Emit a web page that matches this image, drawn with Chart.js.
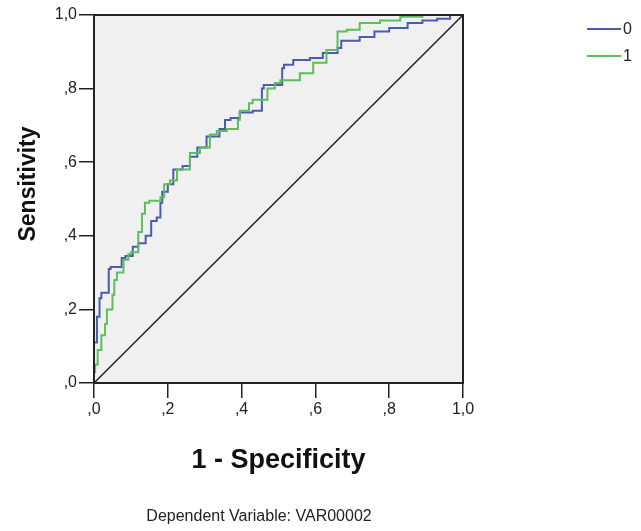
<!DOCTYPE html>
<html>
<head>
<meta charset="utf-8">
<script src="https://cdn.jsdelivr.net/npm/chart.js@4.4.1/dist/chart.umd.min.js"></script>
<style>
    body { margin: 0; background: #ffffff; }
    canvas { display: block; }
</style>
</head>
<body>
<canvas id="rocChart" width="641" height="531"></canvas>
<script>
// ROC curve values

// Group labels (legend)
const groupLabels = ['0', '1'];

// Group 0 (blue): 1 - specificity, sensitivity
const fpr0 = [0, 0, 0.008, 0.015, 0.02, 0.04, 0.045, 0.075, 0.085, 0.105, 0.12, 0.14, 0.155, 0.17, 0.18, 0.185,
    0.2, 0.215, 0.24, 0.26, 0.28, 0.305, 0.34, 0.355, 0.37, 0.395, 0.43, 0.455, 0.46, 0.51, 0.515, 0.54,
    0.585, 0.62, 0.66, 0.67, 0.72, 0.76, 0.8, 0.85, 0.89, 0.93, 0.965, 1];
const tpr0 = [0, 0.1, 0.11, 0.18, 0.23, 0.245, 0.31, 0.315, 0.34, 0.345, 0.37, 0.38, 0.4, 0.44, 0.45, 0.49,
    0.52, 0.54, 0.58, 0.59, 0.615, 0.64, 0.67, 0.69, 0.715, 0.72, 0.735, 0.74, 0.8, 0.81, 0.855, 0.865,
    0.878, 0.883, 0.897, 0.91, 0.93, 0.94, 0.955, 0.965, 0.978, 0.985, 0.99, 1];

// Group 1 (green): 1 - specificity, sensitivity
const fpr1 = [0, 0.003, 0.01, 0.02, 0.03, 0.035, 0.05, 0.055, 0.062, 0.08, 0.093, 0.1, 0.12, 0.13, 0.138, 0.15,
    0.18, 0.19, 0.206, 0.225, 0.26, 0.287, 0.314, 0.333, 0.36, 0.39, 0.395, 0.42, 0.43, 0.47, 0.49, 0.505,
    0.558, 0.594, 0.63, 0.66, 0.685, 0.72, 0.775, 0.83, 0.89, 0.9, 1];
const tpr1 = [0, 0.03, 0.05, 0.09, 0.13, 0.16, 0.2, 0.24, 0.28, 0.3, 0.335, 0.35, 0.355, 0.41, 0.46, 0.49,
    0.495, 0.505, 0.54, 0.55, 0.58, 0.625, 0.64, 0.675, 0.685, 0.69, 0.715, 0.74, 0.76, 0.77, 0.8, 0.815,
    0.823, 0.842, 0.87, 0.905, 0.955, 0.96, 0.978, 0.985, 0.995, 1, 1];

// Reference diagonal
const refX = [0, 1];
const refY = [0, 1];

// Axis ticks
const tickValues = [0, 0.2, 0.4, 0.6, 0.8, 1];
const tickLabels = [',0', ',2', ',4', ',6', ',8', '1,0'];

const blue = '#4a5cb0';
const green = '#5cbf5c';
const ink = '#222222';
const fontFamily = '"Liberation Sans", Arial, sans-serif';

// Zip x/y arrays into points
function toPoints(xs, ys) {
    return xs.map((x, i) => ({ x: x, y: ys[i] }));
}

// Tick label lookup
function formatTick(value) {
    const i = tickValues.findIndex(t => Math.abs(t - value) < 1e-6);
    return i >= 0 ? tickLabels[i] : '';
}

// Background, frame, titles, legend and footnote
const rocFrame = {
    id: 'rocFrame',
    beforeDraw(chart) {
        const { ctx, chartArea: a } = chart;
        ctx.save();
        ctx.fillStyle = '#f0f0f0';
        ctx.fillRect(a.left, a.top, a.right - a.left, a.bottom - a.top);
        ctx.restore();
    },
    afterDraw(chart) {
        const { ctx, chartArea: a } = chart;
        ctx.save();

        // Plot frame
        ctx.strokeStyle = ink;
        ctx.lineWidth = 2;
        ctx.strokeRect(a.left, a.top, a.right - a.left, a.bottom - a.top);

        // Axis titles
        ctx.fillStyle = '#111';
        ctx.font = 'bold 27px ' + fontFamily;
        ctx.textAlign = 'center';
        ctx.textBaseline = 'middle';
        ctx.fillText('1 - Specificity', (a.left + a.right) / 2, 461);

        ctx.save();
        ctx.translate(29, 184);
        ctx.rotate(-Math.PI / 2);
        ctx.font = 'bold 23px ' + fontFamily;
        ctx.fillText('Sensitivity', 0, 0);
        ctx.restore();

        // Footnote
        ctx.font = '16px ' + fontFamily;
        ctx.fillStyle = '#222';
        ctx.fillText('Dependent Variable: VAR00002', 259, 517);

        // Legend
        const entries = [
            { label: groupLabels[0], color: blue, y: 29 },
            { label: groupLabels[1], color: green, y: 56 }
        ];
        ctx.font = '16px ' + fontFamily;
        ctx.textAlign = 'left';
        entries.forEach(e => {
            ctx.strokeStyle = e.color;
            ctx.lineWidth = 2;
            ctx.beginPath();
            ctx.moveTo(587, e.y);
            ctx.lineTo(621, e.y);
            ctx.stroke();
            ctx.fillStyle = '#222';
            ctx.fillText(e.label, 623, e.y + 1);
        });

        ctx.restore();
    }
};

// Shared axis options
function axisOptions(fit) {
    return {
        type: 'linear',
        min: 0,
        max: 1,
        afterBuildTicks: scale => {
            scale.ticks = tickValues.map(v => ({ value: v }));
        },
        afterFit: fit,
        border: { display: false },
        grid: {
            drawOnChartArea: false,
            drawTicks: true,
            tickLength: 15,
            color: ink,
            lineWidth: 1.5
        },
        ticks: {
            color: ink,
            padding: 2,
            font: { family: fontFamily, size: 16 },
            callback: formatTick
        }
    };
}

new Chart(document.getElementById('rocChart'), {
    type: 'scatter',
    data: {
        datasets: [
            {
                label: groupLabels[1],
                data: toPoints(fpr1, tpr1),
                borderColor: green,
                borderWidth: 2,
                showLine: true,
                stepped: 'after',
                pointRadius: 0,
                clip: false
            },
            {
                label: groupLabels[0],
                data: toPoints(fpr0, tpr0),
                borderColor: blue,
                borderWidth: 2,
                showLine: true,
                stepped: 'after',
                pointRadius: 0,
                clip: false
            },
            {
                label: 'reference',
                data: toPoints(refX, refY),
                borderColor: ink,
                borderWidth: 1.5,
                showLine: true,
                pointRadius: 0,
                clip: false
            }
        ]
    },
    options: {
        responsive: false,
        animation: false,
        layout: { padding: { left: 0, top: 15, right: 178, bottom: 0 } },
        plugins: {
            legend: { display: false },
            tooltip: { enabled: false }
        },
        scales: {
            x: axisOptions(scale => { scale.height = 148; }),
            y: axisOptions(scale => { scale.width = 94; })
        }
    },
    plugins: [rocFrame]
});
</script>
</body>
</html>
